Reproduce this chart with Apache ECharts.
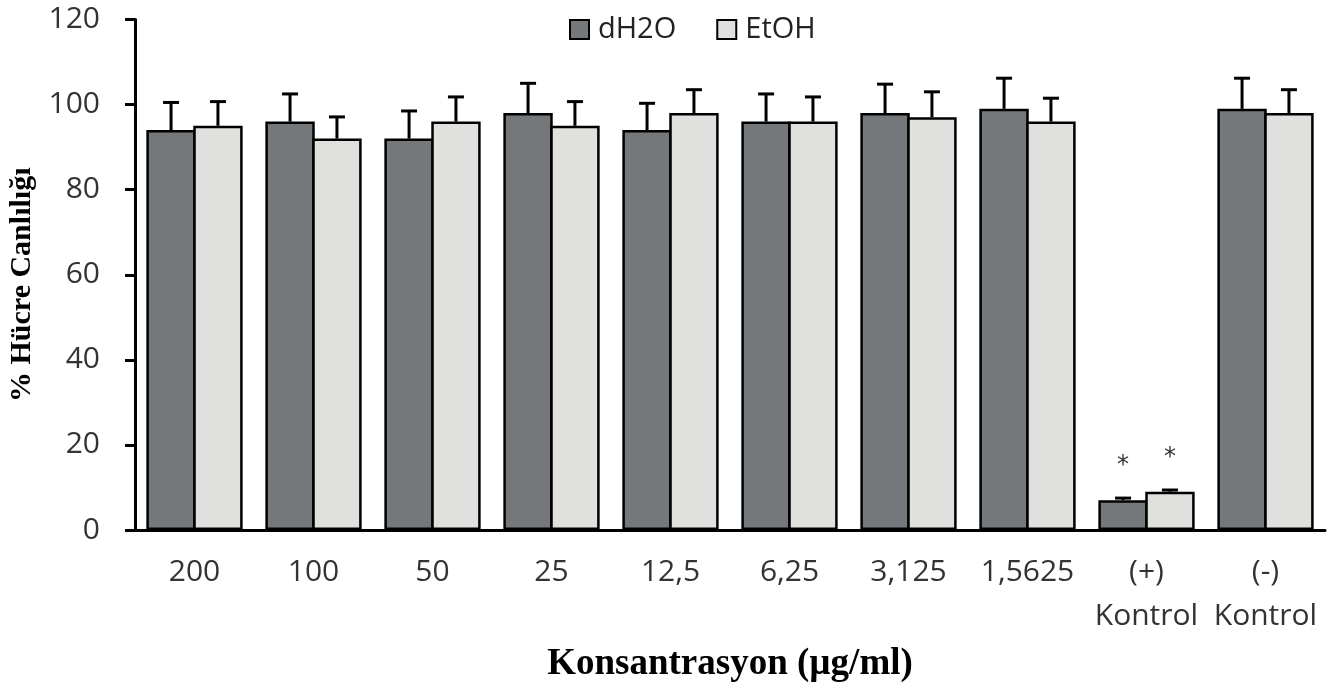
<!DOCTYPE html>
<html>
  <head>
    <meta charset="utf-8" />
    <title>Hücre Canlılığı</title>
    <script src="https://cdn.jsdelivr.net/npm/echarts@6/dist/echarts.min.js"></script>
    <style>
      html, body { margin: 0; padding: 0; background: #fff; }
      #main { width: 1330px; height: 688px; }
    </style>
  </head>
  <body>
    <div id="main"></div>

    <script type="text/javascript">
      // data
      var categories = ["200", "100", "50", "25", "12,5", "6,25", "3,125", "1,5625", "(+)\nKontrol", "(-)\nKontrol"];
      var waterValues = [94, 96, 92, 98, 94, 96, 98, 99, 7, 99];
      var waterErrors = [6.5, 6.5, 6.5, 7, 6.3, 6.5, 6.8, 7.2, 0.5, 7.2];
      var ethanolValues = [95, 92, 96, 95, 98, 96, 97, 96, 9, 98];
      var ethanolErrors = [5.7, 5.1, 5.8, 5.7, 5.5, 5.8, 6, 5.5, 0.4, 5.5];
      var waterStars = ["", "", "", "", "", "", "", "", "*", ""];
      var ethanolStars = ["", "", "", "", "", "", "", "", "*", ""];
      var yTicks = [0, 20, 40, 60, 80, 100, 120];

      var chartDom = document.getElementById("main");
      var myChart = echarts.init(chartDom);

      // error bar (upper only) drawn over the bars; shift = fraction of band
      function errorSeries(values, errors, shift) {
        var data = [];
        for (var i = 0; i < values.length; i++) {
          data.push([i, values[i], values[i] + errors[i]]);
        }
        return {
          type: "custom",
          data: data,
          z: 5,
          silent: true,
          renderItem: function (params, api) {
            var band = api.size([1, 0])[0];
            var base = api.coord([api.value(0), api.value(1)]);
            var top = api.coord([api.value(0), api.value(2)]);
            var x = base[0] + shift * band;
            var cap = 8;
            var style = { stroke: "#000", lineWidth: 3, fill: null };
            return {
              type: "group",
              children: [
                { type: "line", shape: { x1: x, y1: base[1], x2: x, y2: top[1] }, style: style },
                { type: "line", shape: { x1: x - cap, y1: top[1], x2: x + cap, y2: top[1] }, style: style },
              ],
            };
          },
        };
      }

      function starLabel(stars) {
        return {
          show: true,
          position: "top",
          distance: 22,
          color: "#333",
          fontSize: 24,
          fontFamily: "DejaVu Sans",
          formatter: function (p) {
            return stars[p.dataIndex];
          },
        };
      }

      var option = {
        animation: false,
        legend: {
          data: ["dH2O", "EtOH"],
          icon: "rect",
          top: 10,
          left: 564,
          itemWidth: 19,
          itemHeight: 19,
          itemGap: 40,
          itemStyle: { borderColor: "#000", borderWidth: 2 },
          textStyle: { fontFamily: "Open Sans", fontSize: 29, color: "#222", padding: [0, 0, 0, 4] },
        },
        grid: { left: 135, right: 5, top: 19.5, bottom: 158, outerBoundsMode: "none" },
        xAxis: {
          type: "category",
          data: categories,
          name: "Konsantrasyon (µg/ml)",
          nameLocation: "middle",
          nameGap: 116,
          nameTextStyle: { fontFamily: "Liberation Serif", fontWeight: "bold", fontSize: 37, color: "#000" },
          axisLine: { lineStyle: { color: "#000", width: 3 } },
          axisTick: { show: false },
          axisLabel: {
            interval: 0,
            margin: 20,
            fontFamily: "Open Sans",
            fontSize: 30,
            lineHeight: 44,
            color: "#333",
          },
        },
        yAxis: {
          type: "value",
          min: yTicks[0],
          max: yTicks[yTicks.length - 1],
          interval: 20,
          name: "% Hücre Canlılığı",
          nameLocation: "middle",
          nameGap: 82,
          nameRotate: 90,
          nameTextStyle: { fontFamily: "Liberation Serif", fontWeight: "bold", fontSize: 30, color: "#000", padding: [0, 20, 0, 0] },
          splitLine: { show: false },
          axisLine: { show: true, lineStyle: { color: "#000", width: 3 } },
          axisTick: { show: true, length: 10, lineStyle: { color: "#000", width: 3 } },
          axisLabel: { margin: 35, fontFamily: "Open Sans", fontSize: 30, color: "#333" },
        },
        series: [
          {
            name: "dH2O",
            type: "bar",
            data: waterValues,
            barGap: "-5%",
            barWidth: "41.5%",
            itemStyle: { color: "#75787b", borderColor: "#000", borderWidth: 2.5 },
            label: starLabel(waterStars),
          },
          {
            name: "EtOH",
            type: "bar",
            data: ethanolValues,
            barGap: "-5%",
            barWidth: "41.5%",
            itemStyle: { color: "#e0e0de", borderColor: "#000", borderWidth: 2.5 },
            label: starLabel(ethanolStars),
          },
          errorSeries(waterValues, waterErrors, -0.197),
          errorSeries(ethanolValues, ethanolErrors, 0.197),
        ],
      };

      option && myChart.setOption(option);
    </script>
  </body>
</html>
